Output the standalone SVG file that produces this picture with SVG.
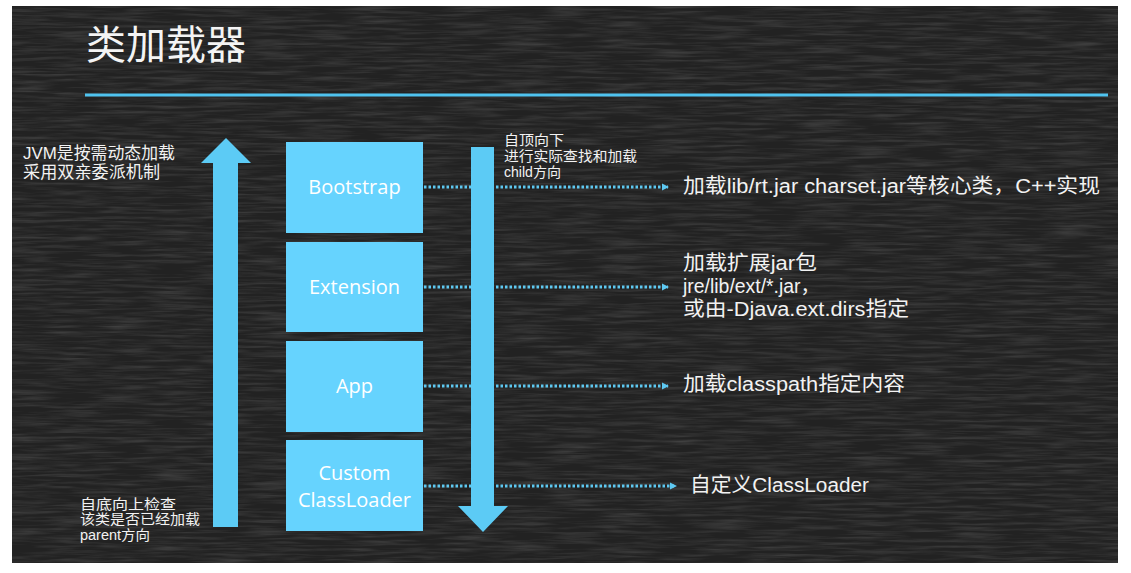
<svg xmlns="http://www.w3.org/2000/svg" width="1131" height="573" viewBox="0 0 1131 573">
<defs>
<style>
.t{font-family:"Liberation Sans","Noto Sans CJK SC",sans-serif;fill:#f2f2f2}
.title{font-family:"Noto Sans CJK SC",sans-serif;fill:#f4f4f4}
.box{fill:#66d3fe}
.bt{font-family:"Open Sans","Noto Sans",sans-serif;fill:#ffffff;font-size:20px;text-anchor:middle}
.dot{stroke:#5ec9f2;stroke-width:3;stroke-dasharray:2.5 2;fill:none}
.big{fill:#5ccbf5}
</style>
<marker id="ah" markerWidth="8" markerHeight="8" refX="6" refY="4" orient="auto" markerUnits="userSpaceOnUse">
<path d="M0,0.5 L7,4 L0,7.5 Z" fill="#5ec9f2"/>
</marker>
<filter id="chalk" x="0" y="0" width="100%" height="100%">
<feTurbulence type="fractalNoise" baseFrequency="0.02 0.35" numOctaves="3" seed="4" result="n"/>
<feColorMatrix in="n" type="matrix" values="0 0 0 0 0.5  0 0 0 0 0.5  0 0 0 0 0.5  0 0 0 0.9 -0.35"/>
</filter>
</defs>
<rect x="0" y="0" width="1131" height="573" fill="#ffffff"/>
<rect x="12" y="6" width="1106" height="557" fill="#222222"/>
<rect x="12" y="6" width="1106" height="557" filter="url(#chalk)" opacity="0.4"/>

<text class="title" x="86" y="59" font-size="40">类加载器</text>
<line x1="85" y1="95" x2="1108" y2="95" stroke="#4fc3ef" stroke-width="3"/>

<g id="connectors">
<line class="dot" x1="424" y1="187" x2="668" y2="187" marker-end="url(#ah)"/>
<line class="dot" x1="424" y1="287" x2="668" y2="287" marker-end="url(#ah)"/>
<line class="dot" x1="424" y1="386" x2="668" y2="386" marker-end="url(#ah)"/>
<line class="dot" x1="424" y1="486" x2="676" y2="486" marker-end="url(#ah)"/>
</g>

<g id="up-arrow">
<path class="big" d="M213,527 L213,163 L201,163 L226,138 L251,163 L238,163 L238,527 Z"/>
</g>
<g id="down-arrow">
<path class="big" d="M471,147 L494,147 L494,506 L508,506 L483,532 L458,506 L471,506 Z"/>
</g>

<g id="bootstrap">
<rect class="box" x="286" y="142" width="137" height="91"/>
<text class="bt" x="354.5" y="194">Bootstrap</text>
</g>
<g id="extension">
<rect class="box" x="286" y="242" width="137" height="90"/>
<text class="bt" x="354.5" y="294">Extension</text>
</g>
<g id="app">
<rect class="box" x="286" y="341" width="137" height="91"/>
<text class="bt" x="354.5" y="393">App</text>
</g>
<g id="custom">
<rect class="box" x="286" y="440" width="137" height="91"/>
<text class="bt" x="354.5" y="480">Custom</text>
<text class="bt" x="354.5" y="507">ClassLoader</text>
</g>

<g id="left-note">
<text class="t" x="23" y="159" font-size="16.5" textLength="152" lengthAdjust="spacingAndGlyphs">JVM是按需动态加载</text>
<text class="t" x="23" y="177.5" font-size="16.5" textLength="137" lengthAdjust="spacingAndGlyphs">采用双亲委派机制</text>
</g>
<g id="up-note">
<text class="t" x="80" y="508.5" font-size="14" textLength="96" lengthAdjust="spacingAndGlyphs">自底向上检查</text>
<text class="t" x="80" y="524" font-size="14" textLength="120" lengthAdjust="spacingAndGlyphs">该类是否已经加载</text>
<text class="t" x="80" y="539.5" font-size="14" textLength="70" lengthAdjust="spacingAndGlyphs">parent方向</text>
</g>
<g id="down-note">
<text class="t" x="504" y="145" font-size="14" textLength="60" lengthAdjust="spacingAndGlyphs">自顶向下</text>
<text class="t" x="504" y="161" font-size="14" textLength="133" lengthAdjust="spacingAndGlyphs">进行实际查找和加载</text>
<text class="t" x="504" y="177" font-size="14" textLength="57" lengthAdjust="spacingAndGlyphs">child方向</text>
</g>

<g id="desc-bootstrap">
<text class="t" x="683" y="193" font-size="20" textLength="417" lengthAdjust="spacingAndGlyphs">加载lib/rt.jar charset.jar等核心类，C++实现</text>
</g>
<g id="desc-extension">
<text class="t" x="683" y="270" font-size="20" textLength="134" lengthAdjust="spacingAndGlyphs">加载扩展jar包</text>
<text class="t" x="683" y="293" font-size="20" textLength="137" lengthAdjust="spacingAndGlyphs">jre/lib/ext/*.jar，</text>
<text class="t" x="683" y="316" font-size="20" textLength="226" lengthAdjust="spacingAndGlyphs">或由-Djava.ext.dirs指定</text>
</g>
<g id="desc-app">
<text class="t" x="683" y="391" font-size="20" textLength="222" lengthAdjust="spacingAndGlyphs">加载classpath指定内容</text>
</g>
<g id="desc-custom">
<text class="t" x="690" y="492" font-size="20" textLength="179" lengthAdjust="spacingAndGlyphs">自定义ClassLoader</text>
</g>
</svg>
